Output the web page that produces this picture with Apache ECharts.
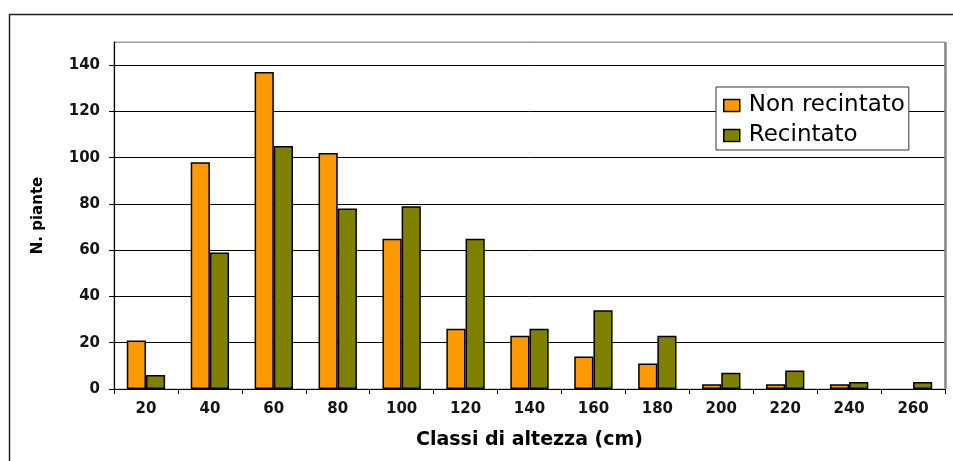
<!DOCTYPE html>
<html>
<head>
<meta charset="utf-8">
<script src="https://cdn.jsdelivr.net/npm/echarts@6/dist/echarts.min.js"></script>
<style>html,body{margin:0;padding:0;background:#fff;}#c{width:953px;height:461px;}</style>
</head>
<body>
<div id="c"></div>
<script>
var categories = ['20','40','60','80','100','120','140','160','180','200','220','240','260'];
var nonRecintato = [21, 98, 137, 102, 65, 26, 23, 14, 11, 2, 2, 2, 0];
var recintato = [6, 59, 105, 78, 79, 65, 26, 34, 23, 7, 8, 3, 3];
var seriesNames = ['Non recintato', 'Recintato'];
var xTitle = 'Classi di altezza (cm)';
var yTitle = 'N. piante';

// zero-height classes draw no bar at all (as in the reference)
function barData(arr) { return arr.map(function (v) { return v === 0 ? '-' : v; }); }

var chart = echarts.init(document.getElementById('c'), null, {renderer: 'canvas'});
var labelFont = {fontFamily: 'DejaVu Sans', fontWeight: 'bold', fontSize: 15, color: '#151515'};
var option = {
  animation: false,
  backgroundColor: '#fff',
  grid: {left: 114, right: 8, top: 42, bottom: 72, show: true, borderColor: '#9a9a9a', borderWidth: 1, backgroundColor: 'transparent'},
  legend: {
    orient: 'vertical', left: 716, top: 87,
    padding: [7, 4, 3, 7],
    icon: 'rect',
    itemWidth: 16, itemHeight: 12, itemGap: 7,
    borderColor: '#333', borderWidth: 1, borderRadius: 0, backgroundColor: '#fff',
    itemStyle: {borderColor: '#000', borderWidth: 1.5},
    textStyle: {fontFamily: 'DejaVu Sans', fontSize: 23, lineHeight: 23, color: '#000', padding: [0, 0, 0, 4]},
    data: seriesNames
  },
  xAxis: {
    type: 'category', data: categories, boundaryGap: true,
    name: xTitle, nameLocation: 'middle', nameGap: 42,
    nameTextStyle: {fontFamily: 'DejaVu Sans', fontWeight: 'bold', fontSize: 19, color: '#000'},
    axisLine: {lineStyle: {color: '#000', width: 1.2}},
    axisTick: {show: true, alignWithLabel: false, length: 5, lineStyle: {color: '#000'}},
    axisLabel: Object.assign({margin: 13, interval: 0}, labelFont),
    splitLine: {show: false}
  },
  yAxis: {
    type: 'value', min: 0, max: 150, interval: 20,
    name: yTitle, nameLocation: 'middle', nameGap: 68, nameRotate: 90,
    nameTextStyle: {fontFamily: 'DejaVu Sans', fontWeight: 'bold', fontSize: 15, color: '#000'},
    axisLine: {show: true, lineStyle: {color: '#000', width: 1.2}},
    axisTick: {show: true, length: 5, lineStyle: {color: '#000'}},
    axisLabel: Object.assign({margin: 14, showMaxLabel: false}, labelFont),
    splitLine: {show: true, lineStyle: {color: ['#000','#000','#000','#000','#000','#000','#000','#000','#9a9a9a'], width: 1}}
  },
  series: [
    {name: seriesNames[0], type: 'bar', data: barData(nonRecintato), barCategoryGap: '40%', barGap: '0%',
     itemStyle: {color: '#FF9900', borderColor: '#000', borderWidth: 1.5}},
    {name: seriesNames[1], type: 'bar', data: barData(recintato), barCategoryGap: '40%', barGap: '0%',
     itemStyle: {color: '#808000', borderColor: '#000', borderWidth: 1.5}}
  ],
  graphic: [
    {type: 'rect', shape: {x: 9.5, y: 14.5, width: 1000, height: 500}, style: {fill: 'none', stroke: '#222', lineWidth: 1.5}, silent: true, z: 100},
    {type: 'line', shape: {x1: 945.5, y1: 42, x2: 945.5, y2: 389}, style: {stroke: '#8a8a8a', lineWidth: 2.5}, silent: true, z: 100}
  ]
};
chart.setOption(option);
</script>
</body>
</html>
